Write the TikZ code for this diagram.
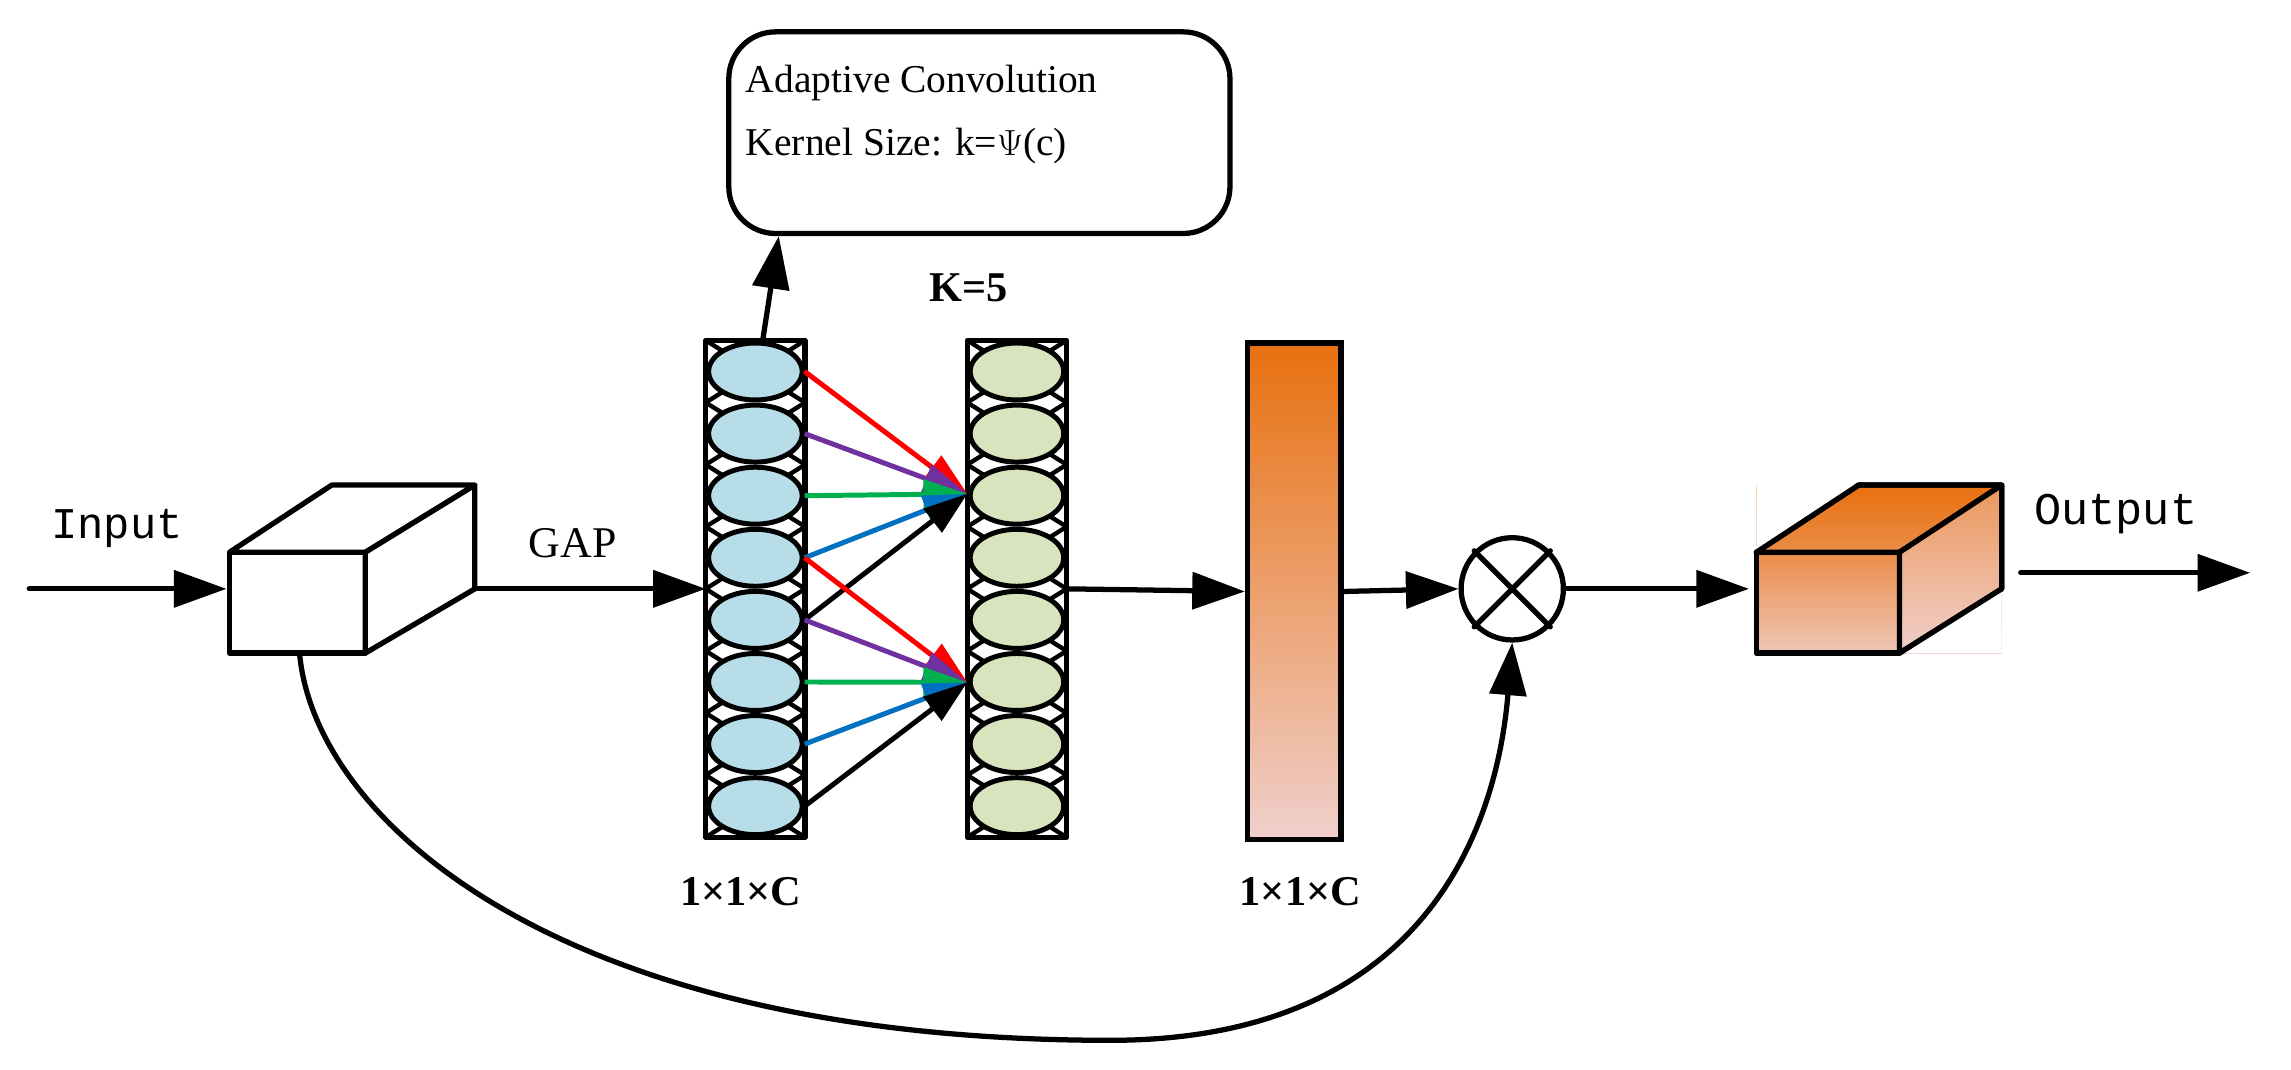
\documentclass[tikz,border=0pt]{standalone}
\usepackage{fontspec}
\setmainfont{Liberation Serif}
\newfontfamily\monof{Liberation Mono}
\usetikzlibrary{arrows.meta,shapes.geometric}
\definecolor{eblue}{HTML}{B7DDE8}
\definecolor{egreen}{HTML}{D7E4BD}
\definecolor{oTop}{HTML}{E8700F}
\definecolor{oBot}{HTML}{F0D0CC}
\definecolor{cred}{HTML}{FF0000}
\definecolor{cpur}{HTML}{7030A0}
\definecolor{cgrn}{HTML}{00B050}
\definecolor{cblu}{HTML}{0070C0}
\tikzset{
  line/.style={line width=3.6pt,line cap=round,line join=round},
  big/.style={line,-{Triangle[length=36pt,width=25pt]}},
  thin/.style={line width=3.4pt,-{Triangle[length=30pt,width=20pt]}},
  lab/.style={font=\fontsize{30}{34}\selectfont},
  blab/.style={font=\fontsize{29}{33}\selectfont\bfseries},
  ell/.style={ellipse,draw,line width=3.4pt,minimum width=64pt,minimum height=39pt,inner sep=0pt},
}
\begin{document}
\begin{tikzpicture}[x=1pt,y=-1pt]
\useasboundingbox (0,0) rectangle (1568,732);
% input cube
\draw[line,fill=white] (157,378) rectangle (250,447);
\draw[line,fill=white] (157,378) -- (227,332) -- (325,332) -- (250,378) -- cycle;
\draw[line,fill=white] (250,378) -- (325,332) -- (325,403) -- (250,447) -- cycle;
\coordinate (inS) at (20,403); \coordinate (inE) at (155,403);
\coordinate (cubeR) at (325,403); \coordinate (cubeB) at (205,447);
\draw[big] (inS) -- (inE);
\node[lab,font=\monof\fontsize{30}{34}\selectfont] (tin) at (80,362) {Input};
\node[lab] (tgap) at (392,372) {GAP};
% left column
\draw[line] (483,233) rectangle (551,573);
\foreach \i in {0,...,8}{
  \pgfmathsetmacro\yy{233+\i*42.5}
  \coordinate (Lb\i) at (483,\yy); \coordinate (Rb\i) at (551,\yy);
  \coordinate (Lg\i) at (662,\yy); \coordinate (Rg\i) at (730,\yy);
}
\foreach \i [evaluate=\i as \j using int(\i+1)] in {0,...,7}{
  \draw[line width=3pt] (Lb\i) -- (Rb\j); \draw[line width=3pt] (Rb\i) -- (Lb\j);
  \draw[line width=3pt] (Lg\i) -- (Rg\j); \draw[line width=3pt] (Rg\i) -- (Lg\j);
}
\foreach \i in {1,...,8}{
  \pgfmathsetmacro\yy{233+(\i-0.5)*42.5}
  \node[ell,fill=eblue] (b\i) at (517,\yy) {};
  \node[ell,fill=egreen] (g\i) at (696,\yy) {};
}
\draw[line] (662,233) rectangle (730,573);
% adaptive box
\node[draw,line width=3.6pt,rounded corners=32pt,minimum width=343pt,minimum height=138pt,anchor=north west] (ad) at (497,20) {};
\node[lab,anchor=west,font=\fontsize{27}{31}\selectfont] (t1) at (507,57) {Adaptive Convolution};
\node[lab,anchor=west,font=\fontsize{27}{31}\selectfont] (t2) at (507,100) {Kernel Size: k=$\Psi$(c)};
\coordinate (colTop) at (522,233);
\draw[big] (colTop) -- (ad.south -| 533,0);
\draw[big] (cubeR) -- (483,403);
\node[blab] (k5) at (663,197) {K=5};
% colored arrows
\coordinate (T1) at (662,338); \coordinate (T2) at (662,467);
\draw[thin,cred] (b1.east) -- (T1);
\draw[thin,cpur] (b2.east) -- (T1);
\draw[thin,cgrn] (b3.east) -- (T1);
\draw[thin,cblu] (b4.east) -- (T1);
\draw[thin,black] (b5.east) -- (T1);
\draw[thin,cred] (b4.east) -- (T2);
\draw[thin,cpur] (b5.east) -- (T2);
\draw[thin,cgrn] (b6.east) -- (T2);
\draw[thin,cblu] (b7.east) -- (T2);
\draw[thin,black] (b8.east) -- (T2);
% bar
\node[draw,line width=3.6pt,top color=oTop,bottom color=oBot,minimum width=64pt,minimum height=340pt,inner sep=0pt,anchor=north west] (bar) at (852,233) {};
\draw[big] (730,403) -- (bar.west);
\node[blab] (c1) at (507,610) {1×1×C};
\node[blab] (c2) at (890,610) {1×1×C};
% multiply
\node[circle,draw,line width=3.6pt,minimum size=70pt,inner sep=0pt] (mul) at (1035,403) {};
\draw[line] (mul.north west) -- (mul.south east) (mul.north east) -- (mul.south west);
\draw[big] (bar.east) -- (mul.west);
% output cube
\shade[top color=oTop!90!white,bottom color=oBot] (1202,332) rectangle (1370,447);
\draw[line,top color=oTop!70!oBot,bottom color=oBot!90!oTop] (1202,378) rectangle (1300,447);
\draw[line,top color=oTop,bottom color=oTop!70!oBot] (1202,378) -- (1272,332) -- (1370,332) -- (1300,378) -- cycle;
\draw[line,top color=oTop!60!oBot,bottom color=oBot] (1300,378) -- (1370,332) -- (1370,403) -- (1300,447) -- cycle;
\fill[white] (1202,332) -- (1272,332) -- (1202,378) -- cycle;
\fill[white] (1370,403) -- (1370,447) -- (1300,447) -- cycle;
\draw[line] (1202,378) -- (1272,332) -- (1370,332) -- (1370,403) -- (1300,447);
\coordinate (ocL) at (1197,403);
\draw[big] (mul.east) -- (ocL);
\coordinate (oS) at (1383,392); \coordinate (oE) at (1540,392);
\draw[big] (oS) -- (oE);
\node[lab,font=\monof\fontsize{31}{34}\selectfont] (tout) at (1448,352) {Output};
% skip curve
\draw[big] (cubeB) .. controls (215,560) and (380,712) .. (760,712) .. controls (980,712) and (1025,560) .. (mul.south);
\end{tikzpicture}
\end{document}
